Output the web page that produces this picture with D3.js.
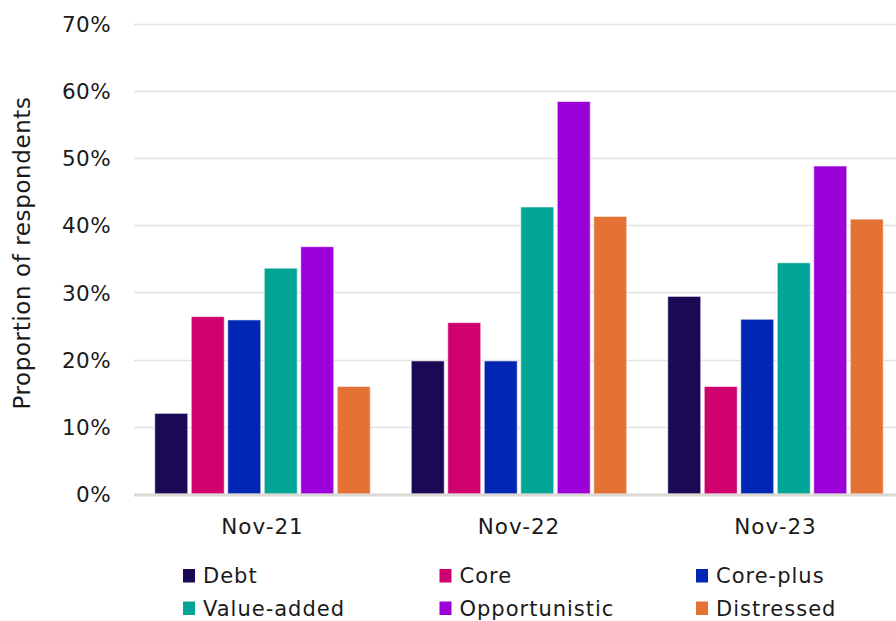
<!DOCTYPE html>
<html>
<head>
<meta charset="utf-8">
<script src="https://cdn.jsdelivr.net/npm/d3@7"></script>
<style>
  html, body { margin: 0; padding: 0; background: #fff; }
  svg text { font-family: "DejaVu Sans", sans-serif; fill: #1a1a1a; }
</style>
</head>
<body>
<svg id="chart" width="896" height="621"></svg>
<script>
// Survey periods along the x axis
const periods = ["Nov-21", "Nov-22", "Nov-23"];
// Strategy series, in drawing order
const strategies = ["Debt", "Core", "Core-plus", "Value-added", "Opportunistic", "Distressed"];
// Share of respondents (%) per strategy, one value per period
const debt          = [12.0, 19.8, 29.4];
const core          = [26.4, 25.5, 16.0];
const corePlus      = [25.9, 19.8, 26.0];
const valueAdded    = [33.6, 42.7, 34.4];
const opportunistic = [36.8, 58.4, 48.8];
const distressed    = [16.0, 41.3, 40.9];
// Y axis ticks (%)
const yTicks = [0, 10, 20, 30, 40, 50, 60, 70];

const seriesValues = [debt, core, corePlus, valueAdded, opportunistic, distressed];
const colors = ["#1b0956", "#d1006f", "#0026b3", "#00a595", "#9b00d8", "#e37234"];

const svg = d3.select("#chart");
const W = 896;
const plotLeft = 134, plotTop = 23.5, plotBottom = 494;
const FONT = "DejaVu Sans, sans-serif";

// Outer band per period; bands run slightly past the right edge of the plot
const x0 = d3.scaleBand().domain(periods).range([134.25, 903.75]).padding(0);
const half = 107.75;
const x1 = d3.scaleBand().domain(strategies)
  .range([x0.bandwidth() / 2 - half, x0.bandwidth() / 2 + half])
  .paddingInner(0.096).paddingOuter(0);
const y = d3.scaleLinear().domain([0, 70]).range([plotBottom, plotTop]);

// Horizontal gridlines
svg.append("g").selectAll("line").data(yTicks.filter(d => d > 0)).join("line")
  .attr("x1", plotLeft).attr("x2", W)
  .attr("y1", d => Math.round(y(d)) + 0.5).attr("y2", d => Math.round(y(d)) + 0.5)
  .attr("stroke", "#e2e2e2").attr("stroke-width", 1.5);

// Y axis labels
const yAxis = d3.axisLeft(y).tickValues(yTicks).tickFormat(d => d + "%").tickSize(0).tickPadding(0);
const gy = svg.append("g").attr("transform", `translate(111,0)`).call(yAxis);
gy.select(".domain").remove();
gy.selectAll("text")
  .attr("font-size", 21.5).attr("font-family", FONT).attr("fill", "#1a1a1a")
  .attr("letter-spacing", 0.4).attr("dy", "0.36em");

// Y axis title
svg.append("text")
  .attr("transform", `translate(30,253) rotate(-90)`)
  .attr("text-anchor", "middle")
  .attr("font-size", 23)
  .attr("letter-spacing", 0.6)
  .text("Proportion of respondents");

// Bars
const rows = [];
periods.forEach((p, i) => strategies.forEach((s, j) => rows.push({ p, s, v: seriesValues[j][i], c: colors[j] })));
svg.append("g").selectAll("rect").data(rows).join("rect")
  .attr("x", d => x0(d.p) + x1(d.s))
  .attr("y", d => y(d.v))
  .attr("width", x1.bandwidth())
  .attr("height", d => plotBottom - y(d.v))
  .attr("fill", d => d.c)
  .attr("stroke", "rgba(255,255,255,0.6)")
  .attr("stroke-width", 1);

// Baseline
svg.append("line")
  .attr("x1", plotLeft).attr("x2", W)
  .attr("y1", plotBottom + 1).attr("y2", plotBottom + 1)
  .attr("stroke", "#dcd8d3").attr("stroke-width", 3);

// X axis labels
const xAxis = d3.axisBottom(x0).tickSize(0).tickPadding(0);
const gx = svg.append("g").attr("transform", `translate(0,${plotBottom})`).call(xAxis);
gx.select(".domain").remove();
gx.selectAll("text")
  .attr("font-size", 21.5).attr("font-family", FONT).attr("fill", "#1a1a1a")
  .attr("letter-spacing", 1).attr("y", 39.5).attr("dy", 0);

// Legend: two rows of three, columns aligned with the period groups
const legend = svg.append("g");
strategies.forEach((s, j) => {
  const col = j % 3, row = Math.floor(j / 3);
  const lx = 183 + col * 256.5;
  const ly = 583 + row * 32.5; // text baseline
  const g = legend.append("g").attr("transform", `translate(${lx},${ly})`);
  g.append("rect").attr("x", 0).attr("y", -14).attr("width", 12).attr("height", 13.5).attr("fill", colors[j]);
  g.append("text").attr("x", 20).attr("y", 0).attr("font-size", 21).attr("letter-spacing", 1).text(s);
});
</script>
</body>
</html>
